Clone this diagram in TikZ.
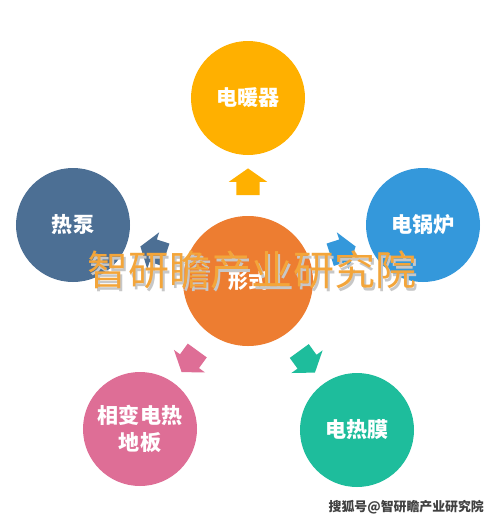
\documentclass[tikz,border=0pt]{standalone}
\usepackage{fontspec}
\setmainfont{Noto Sans CJK SC}
\usetikzlibrary{calc,shapes.arrows}
\definecolor{cOrange}{HTML}{ED7D31}
\definecolor{cYellow}{HTML}{FFB000}
\definecolor{cSlate}{HTML}{4C6F94}
\definecolor{cBlue}{HTML}{3498DB}
\definecolor{cPink}{HTML}{DE6E96}
\definecolor{cTeal}{HTML}{1EBD9C}
\definecolor{cMark}{HTML}{F3A53A}
\tikzset{
  ball/.style={circle, minimum size=3.42cm, inner sep=0pt, text=white, align=center,
    font=\bfseries\fontsize{18}{23}\selectfont},
  blockarrow/.style={single arrow, inner xsep=0pt, inner ysep=0.345cm, minimum height=0.8cm,
    single arrow head extend=0.225cm, single arrow tip angle=110},
}

\begin{document}
\begin{tikzpicture}[x=0.03cm, y=-0.03cm]
	%%%%% START %%%%%
	\fill[white] (0,0) rectangle (499,525);
	\useasboundingbox (0,0) rectangle (499,525);
	
	\node[ball, fill=cOrange, minimum size=3.9cm, font=\bfseries\fontsize{17}{20}\selectfont] (form) at (248,281) {形式};
	\node[ball, fill=cYellow] (heater) at (248,98) {电暖器};
	\node[ball, fill=cSlate] (pump) at (73,225) {热泵};
	\node[ball, fill=cBlue] (boiler) at (423,225) {电锅炉};
	\node[ball, fill=cPink] (floor) at (140,429) {相变电热\\地板};
	\node[ball, fill=cTeal] (film) at (357,430) {电热膜};
	
	\node[blockarrow, fill=cYellow, rotate=90] (heaterArr) at ($(form)!0.52!(heater)$) {};
	\node[blockarrow, fill=cSlate, rotate=162] (pumpArr) at ($(form)!0.52!(pump)$) {};
	\node[blockarrow, fill=cBlue, rotate=18] (boilerArr) at ($(form)!0.52!(boiler)$) {};
	\node[blockarrow, fill=cPink, rotate=234] (floorArr) at ($(form)!0.52!(floor)$) {};
	\node[blockarrow, fill=cTeal, rotate=306] (filmArr) at ($(form)!0.52!(film)$) {};
	
	% watermark
	\node[text=black!22, font=\fontsize{35}{40}\selectfont] (markShadow) at (254,273) {智研瞻产业研究院};
	\node[text=cMark, font=\fontsize{35}{40}\selectfont] (mark) at (252,270) {智研瞻产业研究院};
	
	\node[anchor=east, text=black!75, font=\bfseries\fontsize{11}{13}\selectfont] (sohu) at (488,507) {搜狐号@智研瞻产业研究院};
	
	%%%%% END %%%%%
\end{tikzpicture}
\end{document}
